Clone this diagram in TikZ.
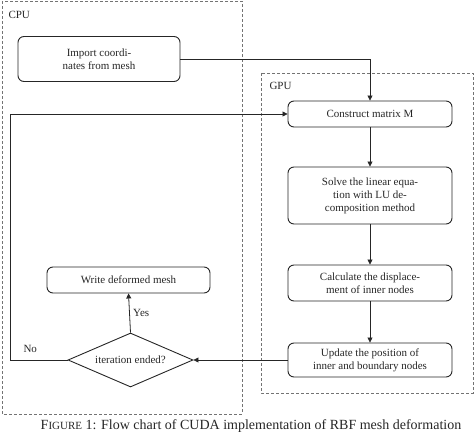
\documentclass[tikz,border=0pt]{standalone}
\usepackage{fontspec}
\setmainfont{Liberation Serif}
\usetikzlibrary{shapes.geometric,arrows.meta}
\begin{document}
\begin{tikzpicture}[x=1pt,y=-1pt,
  proc/.style={draw=black!85,line width=0.9pt,rounded corners=6pt,minimum width=164pt,align=center,inner sep=2pt,font=\fontsize{11}{13}\selectfont,text=black!85},
  region/.style={draw=black!55,dashed,line width=0.8pt,dash pattern=on 3pt off 2pt},
  conn/.style={draw=black!85,line width=0.8pt},
  arr/.style={conn,-{Triangle[length=5pt,width=5pt]}},
  lbl/.style={font=\fontsize{11}{13}\selectfont,text=black!85}]
\useasboundingbox (0,0) rectangle (474,433);
% regions
\draw[region] (2,1) rectangle (242,414);
\draw[region] (261,73) rectangle (473,393);
\node[lbl,anchor=west] (cpu) at (5,15) {CPU};
\node[lbl,anchor=west] (gpu) at (266,86) {GPU};
% nodes
\node[proc,minimum width=162pt,minimum height=45pt] (imp) at (99,59) {Import coordi-\\nates from mesh};
\node[proc,minimum height=26pt] (con) at (370,114) {Construct matrix M};
\node[proc,minimum height=57pt] (sol) at (370,195.5) {Solve the linear equa-\\tion with LU de-\\composition method};
\node[proc,minimum height=36pt] (cal) at (370,283) {Calculate the displace-\\ment of inner nodes};
\node[proc,minimum height=34pt] (upd) at (370,360) {Update the position of\\inner and boundary nodes};
\node[proc,minimum width=163pt,minimum height=26pt] (wri) at (128.5,280) {Write deformed mesh};
\node[diamond,draw=black!85,line width=0.9pt,aspect=2.3,minimum width=125pt,minimum height=54pt,inner sep=0pt,font=\fontsize{11}{13}\selectfont,text=black!85] (dec) at (130.5,360) {iteration ended?};
\coordinate (c1) at (10,360);
\coordinate (c2) at (10,114);
% connectors
\draw[arr] (imp.east) -| (con.north);
\draw[arr] (con) -- (sol);
\draw[arr] (sol) -- (cal);
\draw[arr] (cal) -- (upd);
\draw[arr] (upd.west) -- (dec.east);
\draw[arr] (dec.north) -- node[lbl,right,pos=0.5] (yes) {Yes} (wri.south);
\draw[arr] (dec.west) -- (c1) -- (c2) -- (con.west);
\node[lbl,anchor=south west] (no) at (20,356) {No};
% caption
\node[anchor=base,font=\fontsize{14}{16}\selectfont,text=black!85,inner sep=0pt] (cap) at (251,429.5) {F{\fontsize{11}{12}\selectfont IGURE} 1: Flow chart of CUDA implementation of RBF mesh deformation};
\end{tikzpicture}
\end{document}
